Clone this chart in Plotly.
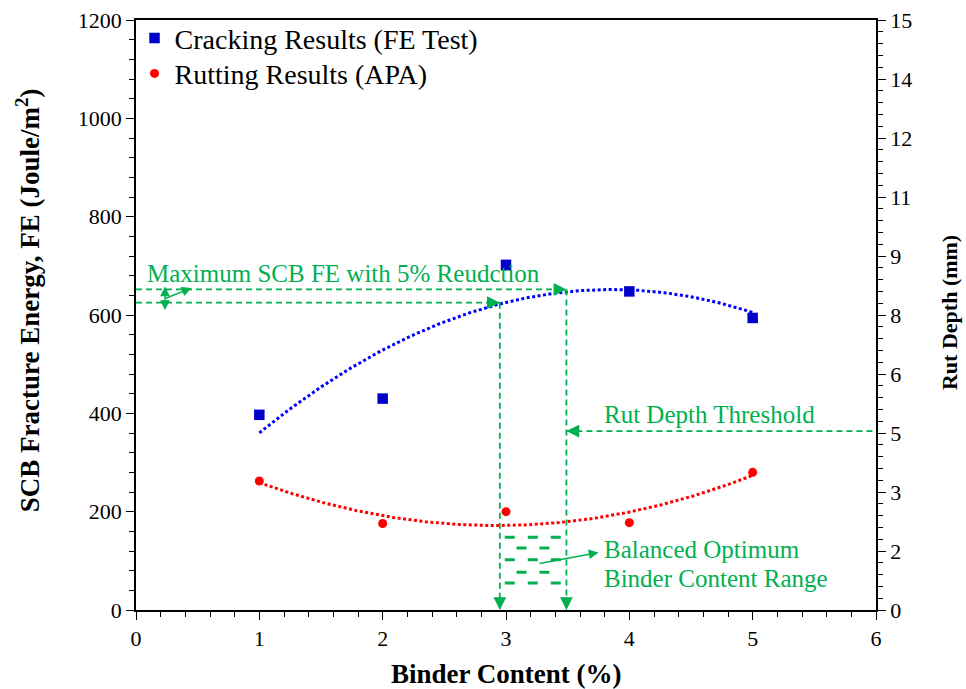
import math
import numpy as np
import plotly.graph_objects as go

# ---------------- data ----------------
binder_content = [1, 2, 3, 4, 5]
fracture_energy = [397, 430, 702, 648, 594]      # J/m^2 (left axis)
rut_depth = [3.28, 2.20, 2.50, 2.22, 3.50]        # mm (right axis)

crack_name = "Cracking Results (FE Test)"
rut_name = "Rutting Results (APA)"

x_ticks = [0, 1, 2, 3, 4, 5, 6]
left_ticks = [0, 200, 400, 600, 800, 1000, 1200]
right_ticks = [i * 1.5 for i in range(11)]
right_labels = [str(int(math.floor(v + 0.5))) for v in right_ticks]

# annotation levels
fe_max = 652          # maximum of FE trend
fe_reduced = 625      # 5% reduction level
x_low = 2.95          # lower bound binder content
x_high = 3.49         # upper bound binder content
rut_threshold = 4.55  # mm

GREEN = "#00B050"
FONT = "Liberation Serif"

# polynomial (2nd order) trend lines from the data
xs = np.linspace(min(binder_content), max(binder_content), 200)
fe_fit = np.polyval(np.polyfit(binder_content, fracture_energy, 2), xs)
rut_fit = np.polyval(np.polyfit(binder_content, rut_depth, 2), xs)

fig = go.Figure()

fig.add_trace(go.Scatter(x=xs, y=fe_fit, mode="lines", showlegend=False, hoverinfo="skip",
                         line=dict(color="#0000FF", width=3, dash="3px,2.5px")))
fig.add_trace(go.Scatter(x=xs, y=rut_fit, mode="lines", showlegend=False, hoverinfo="skip",
                         yaxis="y2", line=dict(color="#FF0000", width=3, dash="3px,2.5px")))
fig.add_trace(go.Scatter(x=binder_content, y=fracture_energy, mode="markers", name=crack_name,
                         legend="legend",
                         marker=dict(symbol="square", size=10.5, color="#0000CC")))
fig.add_trace(go.Scatter(x=binder_content, y=rut_depth, mode="markers", name=rut_name,
                         legend="legend2", yaxis="y2",
                         marker=dict(symbol="circle", size=9, color="#FF0000")))

dash_line = dict(color=GREEN, width=1.8, dash="6px,4px")
shapes = [
    dict(type="line", xref="x", yref="y", x0=0, x1=x_high, y0=fe_max, y1=fe_max, line=dash_line),
    dict(type="line", xref="x", yref="y", x0=0, x1=x_low, y0=fe_reduced, y1=fe_reduced, line=dash_line),
    dict(type="line", xref="x", yref="y", x0=x_low, x1=x_low, y0=fe_reduced, y1=0, line=dash_line),
    dict(type="line", xref="x", yref="y", x0=x_high, x1=x_high, y0=fe_max, y1=0, line=dash_line),
    dict(type="line", xref="x", yref="y2", x0=x_high, x1=6, y0=rut_threshold, y1=rut_threshold, line=dash_line),
]
# patterned "balanced range" block
rows = [148, 126, 102, 77, 55]
for i, yv in enumerate(rows):
    if i % 2 == 0:
        x0, x1 = 2.99, 3.45
    else:
        x0, x1 = 3.085, 3.36
    shapes.append(dict(type="line", xref="x", yref="y", x0=x0, x1=x1, y0=yv, y1=yv,
                       line=dict(color=GREEN, width=3, dash="10px,13px")))

annotations = []


def head(x, y, ax, ay, yref="y"):
    annotations.append(dict(x=x, y=y, xref="x", yref=yref, ax=ax, ay=ay, text="",
                            showarrow=True, arrowhead=2, arrowsize=1.6, arrowwidth=1.6,
                            arrowcolor=GREEN, standoff=0))


head(x_high, fe_max, -14, 0)
head(x_low, fe_reduced, -14, 0)
head(x_low, 0, 0, -14)
head(x_high, 0, 0, -14)
head(x_high, rut_threshold, 14, 0, yref="y2")

# double arrow between levels
annotations.append(dict(x=0.235, y=fe_max + 6, ax=0.235, ay=fe_reduced - 18, xref="x", yref="y",
                        axref="x", ayref="y", text="", showarrow=True, arrowhead=2,
                        arrowside="end+start", arrowsize=1.3, arrowwidth=1.5,
                        arrowcolor=GREEN, standoff=0, startstandoff=0))
annotations.append(dict(x=0.45, y=655, ax=0.23, ay=633, xref="x", yref="y",
                        axref="x", ayref="y", text="", showarrow=True, arrowhead=2,
                        arrowsize=1.3, arrowwidth=1.5, arrowcolor=GREEN, standoff=0))
annotations.append(dict(x=3.75, y=117, ax=3.26, ay=94, xref="x", yref="y",
                        axref="x", ayref="y", text="", showarrow=True, arrowhead=2,
                        arrowsize=1.3, arrowwidth=1.5, arrowcolor=GREEN, standoff=0))

txt_font = dict(family=FONT, size=25, color=GREEN)
annotations.append(dict(x=0.075, y=685, xref="x", yref="y", text="Maximum SCB FE with 5% Reudction",
                        showarrow=False, xanchor="left", yanchor="middle", font=txt_font))
annotations.append(dict(x=3.78, y=397, xref="x", yref="y", text="Rut Depth Threshold",
                        showarrow=False, xanchor="left", yanchor="middle", font=txt_font))
annotations.append(dict(x=3.78, y=124, xref="x", yref="y", text="Balanced Optimum",
                        showarrow=False, xanchor="left", yanchor="middle", font=txt_font))
annotations.append(dict(x=3.78, y=64, xref="x", yref="y", text="Binder Content Range",
                        showarrow=False, xanchor="left", yanchor="middle", font=txt_font))

# axis titles
annotations.append(dict(x=-0.146, y=0.525, xref="paper", yref="paper", textangle=-90,
                        text="<b>SCB Fracture Energy, FE (Joule/m<sup>2</sup>)</b>",
                        showarrow=False, xanchor="center", yanchor="middle",
                        font=dict(family=FONT, size=27, color="black")))
annotations.append(dict(x=0.5, y=-0.1085, xref="paper", yref="paper",
                        text="<b>Binder Content (%)</b>",
                        showarrow=False, xanchor="center", yanchor="middle",
                        font=dict(family=FONT, size=27, color="black")))
annotations.append(dict(x=1.0986, y=0.505, xref="paper", yref="paper", textangle=-90,
                        text="<b>Rut Depth (mm)</b>",
                        showarrow=False, xanchor="center", yanchor="middle",
                        font=dict(family=FONT, size=22, color="black")))

tick_font = dict(family=FONT, size=22, color="black")
minor_common = dict(ticks="outside", ticklen=5, tickcolor="black", tickwidth=1, showgrid=False)

legend_common = dict(x=-0.002, xanchor="left", yanchor="middle", bgcolor="rgba(0,0,0,0)",
                     font=dict(family=FONT, size=28, color="black"), itemwidth=30)

fig.update_layout(
    width=966, height=689,
    margin=dict(l=136, r=90, t=20, b=79, autoexpand=False),
    paper_bgcolor="white", plot_bgcolor="white",
    font=dict(family=FONT, color="black"),
    shapes=shapes, annotations=annotations,
    showlegend=True,
    legend=dict(y=0.969, **legend_common),
    legend2=dict(y=0.909, **legend_common),
    xaxis=dict(range=[0, 6], tickvals=x_ticks, showgrid=False, zeroline=False,
               showline=True, linecolor="black", linewidth=1.5, mirror=True,
               ticks="outside", ticklen=8, tickcolor="black", tickwidth=1.2,
               tickfont=tick_font, automargin=False,
               minor=dict(dtick=0.2, **minor_common)),
    yaxis=dict(range=[0, 1200], tickvals=left_ticks, showgrid=False, zeroline=False,
               showline=True, linecolor="black", linewidth=1.5,
               ticks="outside", ticklen=8, tickcolor="black", tickwidth=1.2,
               tickfont=tick_font, automargin=False,
               minor=dict(dtick=40, **minor_common)),
    yaxis2=dict(range=[0, 15], overlaying="y", side="right", tickvals=right_ticks,
                ticktext=right_labels, showgrid=False, zeroline=False,
                showline=True, linecolor="black", linewidth=1.5,
                ticks="outside", ticklen=8, tickcolor="black", tickwidth=1.2,
                tickfont=tick_font, automargin=False,
                minor=dict(dtick=0.3, **minor_common)),
)

fig.write_html("out.html")
